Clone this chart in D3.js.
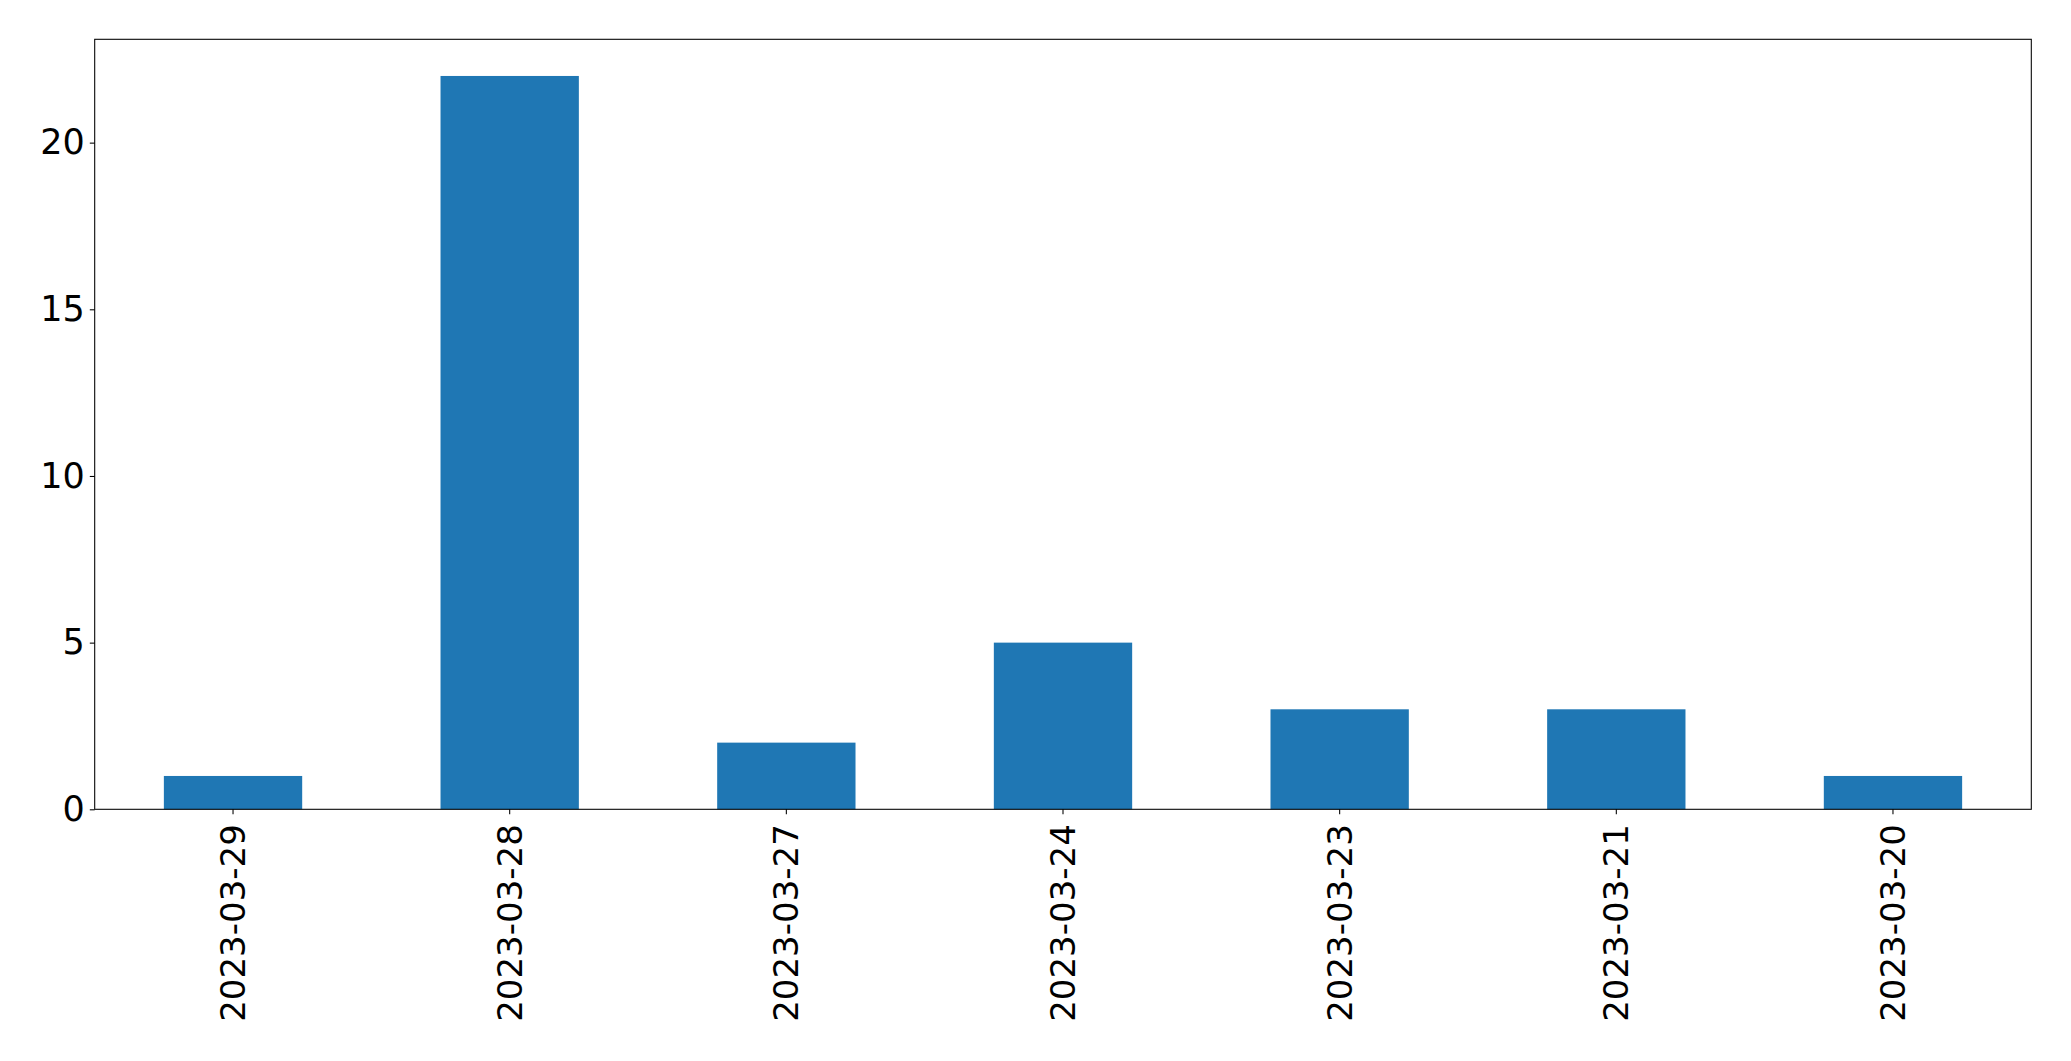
<!DOCTYPE html>
<html>
<head>
<meta charset="utf-8">
<script src="https://cdn.jsdelivr.net/npm/d3@7"></script>
<style>
  html, body { margin: 0; padding: 0; background: #ffffff; }
  svg { display: block; }
  text { font-family: "DejaVu Sans", sans-serif; }
</style>
</head>
<body>
<svg id="chart" width="2071" height="1061"></svg>
<script>
const categories = ["2023-03-29", "2023-03-28", "2023-03-27", "2023-03-24", "2023-03-23", "2023-03-21", "2023-03-20"];
const values = [1, 22, 2, 5, 3, 3, 1];
const yTicks = [0, 5, 10, 15, 20];
const yMax = 23.1;

const W = 2071, H = 1061;
const margin = { left: 94.7, top: 39.3, right: W - 2031.3, bottom: H - 809.3 };
const iw = W - margin.left - margin.right;
const ih = H - margin.top - margin.bottom;

const svg = d3.select("#chart");
svg.append("rect").attr("width", W).attr("height", H).attr("fill", "#ffffff");
const g = svg.append("g").attr("transform", `translate(${margin.left},${margin.top})`);

const x = d3.scaleBand().domain(categories).range([0, iw]).paddingInner(0.5).paddingOuter(0.25);
const y = d3.scaleLinear().domain([0, yMax]).range([ih, 0]);

g.selectAll("rect.bar")
  .data(categories.map((c, i) => ({ c, v: values[i] })))
  .enter().append("rect")
  .attr("class", "bar")
  .attr("x", d => x(d.c))
  .attr("y", d => y(d.v))
  .attr("width", x.bandwidth())
  .attr("height", d => y(0) - y(d.v))
  .attr("fill", "#1f77b4");

const yFontSize = 35;
const xFontSize = 34;
const tickLen = 4.9;

// Y axis
const yAxis = g.append("g").call(
  d3.axisLeft(y).tickValues(yTicks).tickSize(tickLen).tickPadding(4.9).tickFormat(d3.format("d"))
);
yAxis.select(".domain").remove();
yAxis.selectAll("line").attr("stroke", "#000").attr("stroke-width", 1.07);
yAxis.selectAll("text").attr("font-size", yFontSize).attr("fill", "#000")
  .attr("font-family", "DejaVu Sans, sans-serif");

// X axis
const xAxis = g.append("g").attr("transform", `translate(0,${ih})`).call(
  d3.axisBottom(x).tickSize(tickLen).tickPadding(0)
);
xAxis.select(".domain").remove();
xAxis.selectAll("line").attr("stroke", "#000").attr("stroke-width", 1.07);
xAxis.selectAll("text")
  .attr("font-size", xFontSize).attr("fill", "#000")
  .attr("font-family", "DejaVu Sans, sans-serif")
  .attr("text-anchor", "end")
  .attr("dy", null)
  .attr("dominant-baseline", "central")
  .attr("transform", `translate(0,${tickLen + 10}) rotate(-90)`)
  .attr("y", 0).attr("x", 0);

// Frame
g.append("rect")
  .attr("x", 0).attr("y", 0).attr("width", iw).attr("height", ih)
  .attr("fill", "none").attr("stroke", "#000").attr("stroke-width", 1.07);
</script>
</body>
</html>
